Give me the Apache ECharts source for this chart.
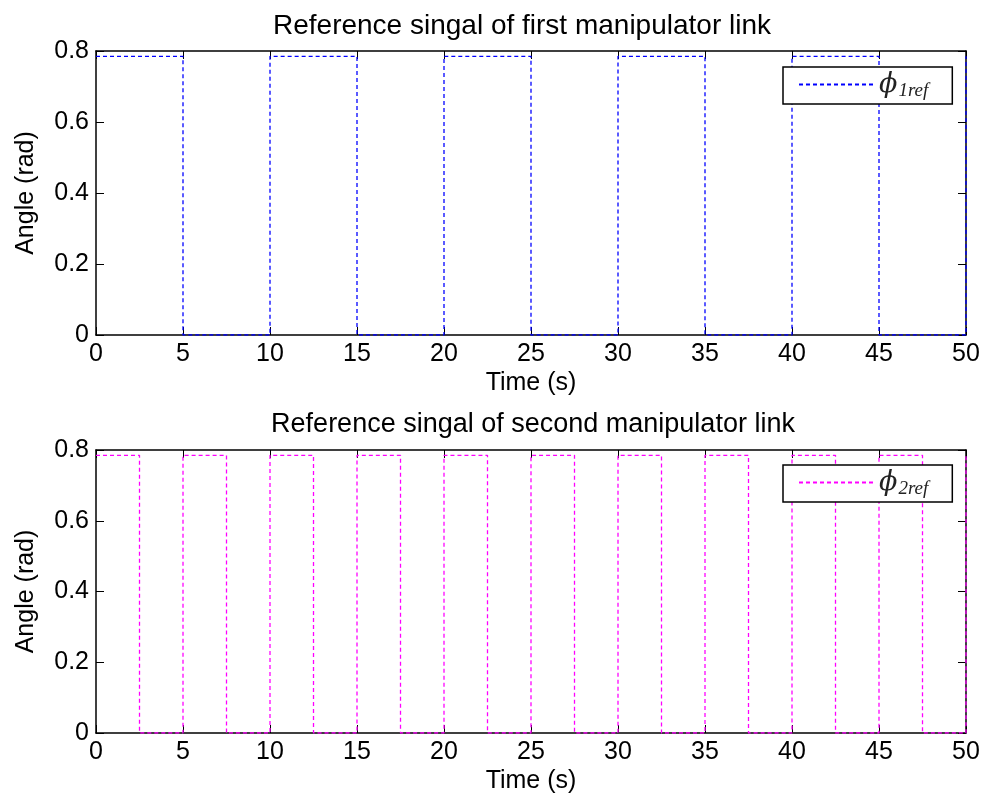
<!DOCTYPE html>
<html>
<head>
<meta charset="UTF-8">
<title>Reference signals</title>
<script src="https://cdn.jsdelivr.net/npm/echarts@6/dist/echarts.min.js"></script>
<style>
  html, body { margin: 0; padding: 0; background: #fff; }
  #chart { width: 986px; height: 805px; }
</style>
</head>
<body>
<div id="chart"></div>
<script>
// switching instants (s) and level held after each instant (rad)
var link1Times = [0, 5, 10, 15, 20, 25, 30, 35, 40, 45, 50];
var link1Levels = [0.785, 0, 0.785, 0, 0.785, 0, 0.785, 0, 0.785, 0, 0.785];
var link2Times = [0, 2.5, 5, 7.5, 10, 12.5, 15, 17.5, 20, 22.5, 25, 27.5, 30, 32.5, 35, 37.5, 40, 42.5, 45, 47.5, 50];
var link2Levels = [0.785, 0, 0.785, 0, 0.785, 0, 0.785, 0, 0.785, 0, 0.785, 0, 0.785, 0, 0.785, 0, 0.785, 0, 0.785, 0, 0.785];
var xTicks = { min: 0, max: 50, step: 5 };
var yTicks = { min: 0, max: 0.8, step: 0.2 };

function pairs(t, v) {
    var out = [];
    for (var i = 0; i < t.length; i++) out.push([t[i], v[i]]);
    return out;
}

var font = 'Liberation Sans, Arial, Helvetica, sans-serif';
var grids = [
    { left: 96, right: 20, top: 51, height: 284 },
    { left: 96, right: 20, top: 450, height: 283 }
];

function xAx(i, pos) {
    var main = pos === 'bottom';
    return {
        type: 'value', gridIndex: i, position: pos,
        min: xTicks.min, max: xTicks.max, interval: xTicks.step,
        name: main ? 'Time (s)' : '', nameLocation: 'middle', nameGap: 36,
        nameTextStyle: { color: '#000', fontSize: 25, fontFamily: font },
        axisLine: { show: true, onZero: false, lineStyle: { color: '#000', width: 1.5 } },
        axisTick: { show: true, inside: true, length: 8, lineStyle: { color: '#000', width: 1 } },
        axisLabel: { show: main, color: '#000', fontSize: 25, fontFamily: font, margin: 7 },
        splitLine: { show: false }
    };
}
function yAx(i, pos) {
    var main = pos === 'left';
    return {
        type: 'value', gridIndex: i, position: pos,
        min: yTicks.min, max: yTicks.max, interval: yTicks.step,
        name: main ? 'Angle (rad)' : '', nameLocation: 'middle', nameGap: 57,
        nameTextStyle: { color: '#000', fontSize: 25, fontFamily: font },
        axisLine: { show: true, onZero: false, lineStyle: { color: '#000', width: 1.5 } },
        axisTick: { show: true, inside: true, length: 8, lineStyle: { color: '#000', width: 1 } },
        axisLabel: { show: main, color: '#000', fontSize: 25, fontFamily: font, margin: 7 },
        splitLine: { show: false }
    };
}

function legendFor(name, top) {
    return {
        data: [name],
        left: 783, top: top,
        orient: 'vertical',
        backgroundColor: '#fff',
        borderColor: '#000', borderWidth: 1.5, borderRadius: 0,
        padding: [4, 24, 4, 15],
        itemWidth: 75, itemHeight: 14, itemGap: 0,
        itemStyle: { opacity: 0 },
        textStyle: {
            color: '#222',
            rich: {
                a: { fontFamily: 'DejaVu Serif, Liberation Serif, serif', fontStyle: 'italic', fontSize: 27, color: '#222' },
                b: { fontFamily: 'Liberation Serif, serif', fontStyle: 'italic', fontSize: 19, color: '#222', padding: [12, 0, 0, 1] }
            }
        },
        formatter: function (n) { return '{a|ϕ}{b|' + n.slice(3) + '}'; }
    };
}

var chart = echarts.init(document.getElementById('chart'));
chart.setOption({
    animation: false,
    backgroundColor: '#fff',
    title: [
        { text: 'Reference singal of first manipulator link', left: 517, textAlign: 'center', top: 7,
          textStyle: { color: '#000', fontSize: 28, fontWeight: 'normal', fontFamily: font } },
        { text: 'Reference singal of second manipulator link', left: 528, textAlign: 'center', top: 406,
          textStyle: { color: '#000', fontSize: 27, fontWeight: 'normal', fontFamily: font } }
    ],
    grid: grids,
    xAxis: [xAx(0, 'bottom'), xAx(0, 'top'), xAx(1, 'bottom'), xAx(1, 'top')],
    yAxis: [yAx(0, 'left'), yAx(0, 'right'), yAx(1, 'left'), yAx(1, 'right')],
    legend: [legendFor('phi1ref', 67), legendFor('phi2ref', 465)],
    series: [
        {
            name: 'phi1ref', type: 'line', xAxisIndex: 0, yAxisIndex: 0,
            step: 'end', symbol: 'none', showSymbol: false,
            data: pairs(link1Times, link1Levels),
            lineStyle: { color: '#0000ff', width: 1.3, type: [4, 3] },
            itemStyle: { color: '#0000ff' }
        },
        {
            name: 'phi2ref', type: 'line', xAxisIndex: 2, yAxisIndex: 2,
            step: 'end', symbol: 'none', showSymbol: false,
            data: pairs(link2Times, link2Levels),
            lineStyle: { color: '#ff00ff', width: 1.3, type: [4, 3] },
            itemStyle: { color: '#ff00ff' }
        }
    ]
});
</script>
</body>
</html>
